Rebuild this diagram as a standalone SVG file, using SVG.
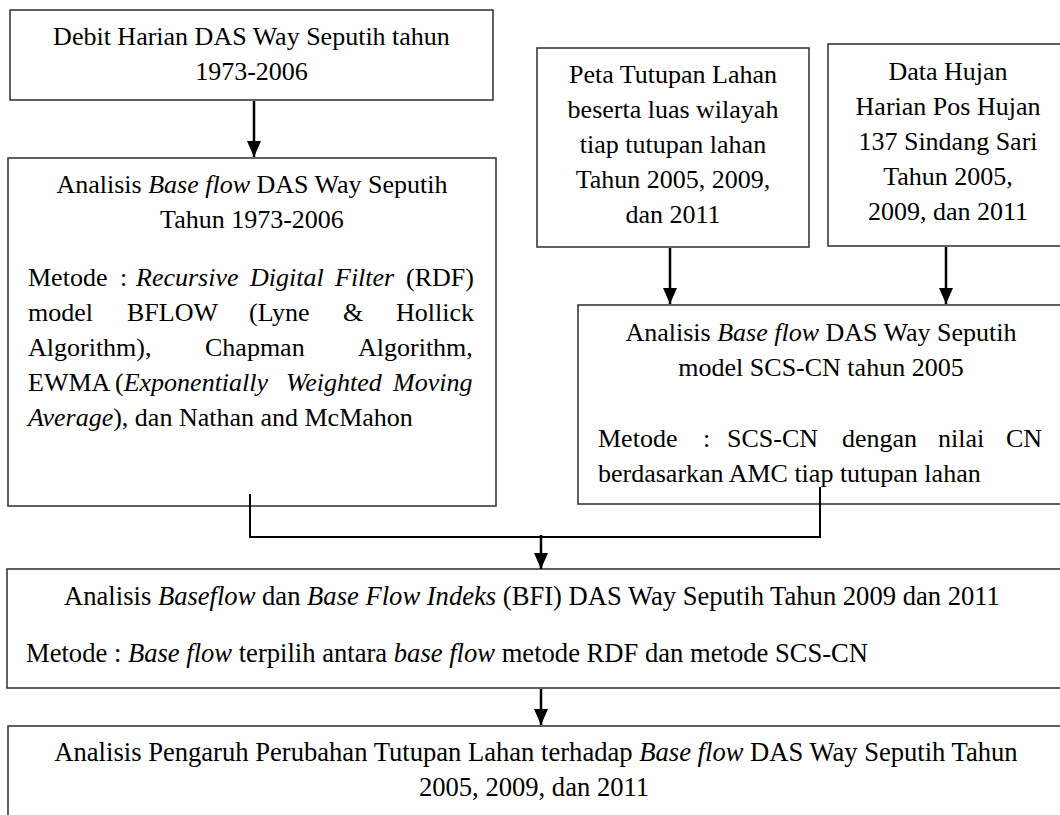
<svg xmlns="http://www.w3.org/2000/svg" width="1060" height="815" viewBox="0 0 1060 815">
<style>
.box{fill:#fff;stroke:#3a3a3a;stroke-width:1.6}
.t{font-family:"Liberation Serif","Times New Roman",serif;font-size:26px;fill:#000}
.tb{font-size:26.6px}
.c{text-anchor:middle}
.i{font-style:italic}
.ln{stroke:#000;stroke-width:2;fill:none}
.ar{stroke:#000;stroke-width:2.5;fill:none;marker-end:url(#ah)}
</style>
<defs>
<marker id="ah" markerUnits="userSpaceOnUse" markerWidth="16" markerHeight="14" refX="16" refY="7" orient="auto" viewBox="0 0 16 14">
<path d="M0,0 L16,7 L0,14 z" fill="#000"/>
</marker>
</defs>
<rect width="1060" height="815" fill="#fff"/>

<g id="n-debit">
<rect class="box" x="10" y="10" width="483" height="90"/>
<text class="t c" x="251.5" y="45">Debit Harian DAS Way Seputih tahun</text>
<text class="t c" x="251.5" y="80">1973-2006</text>
</g>

<g id="n-rdf">
<rect class="box" x="8" y="158" width="488" height="348"/>
<text class="t c" x="252" y="193">Analisis <tspan class="i">Base flow</tspan> DAS Way Seputih</text>
<text class="t c" x="252" y="228">Tahun 1973-2006</text>
<text class="t" y="286"><tspan x="28">Metode</tspan><tspan x="120">:</tspan><tspan x="136" class="i">Recursive</tspan><tspan x="250" class="i">Digital</tspan><tspan x="335" class="i">Filter</tspan><tspan x="406">(RDF)</tspan></text>
<text class="t" y="321"><tspan x="28">model</tspan><tspan x="127">BFLOW</tspan><tspan x="249">(Lyne</tspan><tspan x="343">&amp;</tspan><tspan x="396">Hollick</tspan></text>
<text class="t" y="356"><tspan x="28">Algorithm),</tspan><tspan x="205">Chapman</tspan><tspan x="358">Algorithm,</tspan></text>
<text class="t" y="391"><tspan x="28">EWMA</tspan><tspan x="115">(<tspan class="i">Exponentially</tspan></tspan><tspan x="286" class="i">Weighted</tspan><tspan x="393" class="i">Moving</tspan></text>
<text class="t" x="28" y="426"><tspan class="i">Average</tspan>), dan Nathan and McMahon</text>
</g>

<g id="n-peta">
<rect class="box" x="537" y="48" width="272" height="199"/>
<text class="t c" x="673" y="83">Peta Tutupan Lahan</text>
<text class="t c" x="673" y="118">beserta luas wilayah</text>
<text class="t c" x="673" y="153">tiap tutupan lahan</text>
<text class="t c" x="673" y="188">Tahun 2005, 2009,</text>
<text class="t c" x="673" y="223">dan 2011</text>
</g>

<g id="n-hujan">
<rect class="box" x="828" y="44" width="240" height="202"/>
<text class="t c" x="948" y="80">Data Hujan</text>
<text class="t c" x="948" y="115">Harian Pos Hujan</text>
<text class="t c" x="948" y="150">137 Sindang Sari</text>
<text class="t c" x="948" y="185">Tahun 2005,</text>
<text class="t c" x="948" y="220">2009, dan 2011</text>
</g>

<g id="n-scs">
<rect class="box" x="578" y="305" width="490" height="199"/>
<text class="t c" x="821" y="341">Analisis <tspan class="i">Base flow</tspan> DAS Way Seputih</text>
<text class="t c" x="821" y="376">model SCS-CN tahun 2005</text>
<text class="t" y="447"><tspan x="598">Metode</tspan><tspan x="703">:</tspan><tspan x="727">SCS-CN</tspan><tspan x="842">dengan</tspan><tspan x="938">nilai</tspan><tspan x="1006">CN</tspan></text>
<text class="t" x="598" y="482">berdasarkan AMC tiap tutupan lahan</text>
</g>

<g id="n-bfi">
<rect class="box" x="7" y="569" width="1060" height="119"/>
<text class="t tb c" x="532" y="605">Analisis <tspan class="i">Baseflow</tspan> dan <tspan class="i">Base Flow Indeks</tspan> (BFI) DAS Way Seputih Tahun 2009 dan 2011</text>
<text class="t tb" x="26" y="662">Metode : <tspan class="i">Base flow</tspan> terpilih antara <tspan class="i">base flow</tspan> metode RDF dan metode SCS-CN</text>
</g>

<g id="n-pengaruh">
<rect class="box" x="8" y="726" width="1060" height="100"/>
<text class="t tb c" x="536" y="761">Analisis Pengaruh Perubahan Tutupan Lahan terhadap <tspan class="i">Base flow</tspan> DAS Way Seputih Tahun</text>
<text class="t tb c" x="534" y="796">2005, 2009, dan 2011</text>
</g>

<g id="connectors">
<line class="ar" x1="254" y1="101" x2="254" y2="157"/>
<line class="ar" x1="670" y1="248" x2="670" y2="304"/>
<line class="ar" x1="946" y1="247" x2="946" y2="304"/>
<polyline class="ln" points="250,494 250,537 820,537 820,487"/>
<line class="ar" x1="541" y1="535" x2="541" y2="569"/>
<line class="ar" x1="541" y1="689" x2="541" y2="725"/>
</g>
</svg>
